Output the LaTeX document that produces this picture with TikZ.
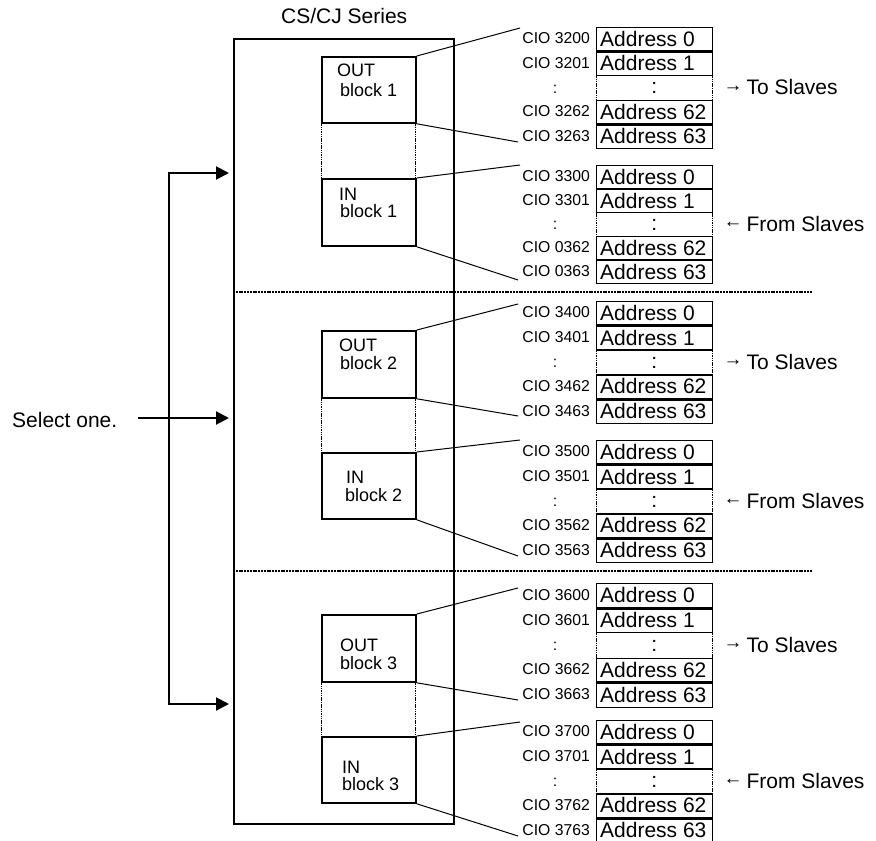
\documentclass[tikz,border=0pt]{standalone}
\usepackage{fontspec}
\setmainfont{Liberation Sans}
\usetikzlibrary{arrows.meta}
\newcommand\fmain{\fontsize{21bp}{25bp}\selectfont}
\newcommand\fcio{\fontsize{15.75bp}{18bp}\selectfont}
\newcommand\fblk{\fontsize{18bp}{20bp}\selectfont}
\newcommand\farr{\fontsize{19bp}{19bp}\selectfont}
\newcommand\toslaves{\makebox[23bp][l]{\raisebox{3.5bp}{\farr →}}To Slaves}
\newcommand\fromslaves{\makebox[23bp][l]{\raisebox{3.5bp}{\farr ←}}From Slaves}
\tikzset{
  plcbox/.style={draw, line width=2bp, inner sep=0pt, anchor=north west},
  blkbox/.style={draw, line width=1.8bp, inner sep=0pt, minimum width=94bp, anchor=north west},
  gapbox/.style={inner sep=0pt, minimum width=94bp, anchor=north west},
  dotline/.style={line width=1bp, dash pattern=on 1.5bp off 0.8bp},
  seprule/.style={line width=1.2bp, dash pattern=on 2bp off 0.8bp},
  rowbox/.style={draw, line width=1.4bp, inner sep=0pt, minimum width=116bp, anchor=north west},
  emptyrow/.style={inner sep=0pt, minimum width=116bp, anchor=north west},
  conn/.style={line width=1bp},
  txt/.style={inner sep=0pt, anchor=base west, font=\fmain},
  addrtxt/.style={inner sep=0pt, font=\fmain},
  ciotxt/.style={inner sep=0pt, font=\fcio},
  blktxt/.style={inner sep=0pt, anchor=base west, font=\fblk},
  selarrow/.style={line width=2bp, line join=miter},
}
\newcommand\addrtable[8]{%
  \pgfmathsetmacro\rh{(#3-#2)/5}%
  \node[rowbox, minimum height=\rh bp] (#1r0) at (596,#2) {};
  \node[rowbox, minimum height=\rh bp] (#1r1) at (#1r0.south west) {};
  \node[emptyrow, minimum height=\rh bp] (#1r2) at (#1r1.south west) {};
  \node[rowbox, minimum height=\rh bp] (#1r3) at (#1r2.south west) {};
  \node[rowbox, minimum height=\rh bp] (#1r4) at (#1r3.south west) {};
  \draw[dotline] (#1r2.north west) -- (#1r2.south west) (#1r2.north east) -- (#1r2.south east);
  \node[addrtxt, anchor=base west] (#1a0) at ([xshift=4bp,yshift=-7bp]#1r0.west) {Address 0};
  \node[addrtxt, anchor=base west] (#1a1) at ([xshift=4bp,yshift=-7bp]#1r1.west) {Address 1};
  \node[addrtxt, anchor=base] (#1a2) at ([yshift=-5.5bp]#1r2.center) {:};
  \node[addrtxt, anchor=base west] (#1a3) at ([xshift=4bp,yshift=-7bp]#1r3.west) {Address 62};
  \node[addrtxt, anchor=base west] (#1a4) at ([xshift=4bp,yshift=-7bp]#1r4.west) {Address 63};
  \node[ciotxt, anchor=base east] (#1c0) at ([xshift=-6bp,yshift=-4.5bp]#1r0.west) {#4};
  \node[ciotxt, anchor=base east] (#1c1) at ([xshift=-6bp,yshift=-4.5bp]#1r1.west) {#5};
  \node[ciotxt, anchor=base] (#1c2) at ([xshift=-41bp,yshift=-5bp]#1r2.west) {:};
  \node[ciotxt, anchor=base east] (#1c3) at ([xshift=-6bp,yshift=-4.5bp]#1r3.west) {#6};
  \node[ciotxt, anchor=base east] (#1c4) at ([xshift=-6bp,yshift=-4.5bp]#1r4.west) {#7};
  \node[addrtxt, anchor=base west] (#1s) at ([xshift=11bp,yshift=-6.5bp]#1r2.east) {#8};
}
\begin{document}
\begin{tikzpicture}[x=1bp,y=-1bp]
\useasboundingbox (0,0) rectangle (876,841);

\node[txt] (title) at (281,23) {CS/CJ Series};
\node[plcbox, minimum width=220bp, minimum height=785bp] (plc) at (233,38) {};

% separators
\coordinate (s1) at (812,292);
\coordinate (s2) at (812,571);
\draw[seprule] (plc.west |- s1) -- (s1);
\draw[seprule] (plc.west |- s2) -- (s2);

% section 1
\node[blkbox, minimum height=66bp] (out1) at (321,56) {};
\node[gapbox, minimum height=56bp] (gap1) at (321,122) {};
\node[blkbox, minimum height=67bp] (in1) at (321,178) {};
\draw[dotline] (gap1.north west) -- (gap1.south west) (gap1.north east) -- (gap1.south east);
\node[blktxt] (out1a) at (337,76) {OUT};
\node[blktxt] (out1b) at (340,96) {block 1};
\node[blktxt] (in1a) at (339,200) {IN};
\node[blktxt] (in1b) at (340,217) {block 1};

% section 2
\node[blkbox, minimum height=67bp] (out2) at (321,330) {};
\node[gapbox, minimum height=55bp] (gap2) at (321,397) {};
\node[blkbox, minimum height=66bp] (in2) at (321,452) {};
\draw[dotline] (gap2.north west) -- (gap2.south west) (gap2.north east) -- (gap2.south east);
\node[blktxt] (out2a) at (339,351) {OUT};
\node[blktxt] (out2b) at (340,369) {block 2};
\node[blktxt] (in2a) at (346,483) {IN};
\node[blktxt] (in2b) at (345,501) {block 2};

% section 3
\node[blkbox, minimum height=67bp] (out3) at (321,614) {};
\node[gapbox, minimum height=55bp] (gap3) at (321,681) {};
\node[blkbox, minimum height=66bp] (in3) at (321,736) {};
\draw[dotline] (gap3.north west) -- (gap3.south west) (gap3.north east) -- (gap3.south east);
\node[blktxt] (out3a) at (340,651) {OUT};
\node[blktxt] (out3b) at (340,669) {block 3};
\node[blktxt] (in3a) at (342,773) {IN};
\node[blktxt] (in3b) at (342,790) {block 3};

% address tables
\addrtable{ta}{27}{143}{CIO 3200}{CIO 3201}{CIO 3262}{CIO 3263}{\toslaves}
\addrtable{tb}{165}{278}{CIO 3300}{CIO 3301}{CIO 0362}{CIO 0363}{\fromslaves}
\addrtable{tc}{301}{418}{CIO 3400}{CIO 3401}{CIO 3462}{CIO 3463}{\toslaves}
\addrtable{td}{440}{557}{CIO 3500}{CIO 3501}{CIO 3562}{CIO 3563}{\fromslaves}
\addrtable{te}{583}{702}{CIO 3600}{CIO 3601}{CIO 3662}{CIO 3663}{\toslaves}
\addrtable{tf}{720}{837}{CIO 3700}{CIO 3701}{CIO 3762}{CIO 3763}{\fromslaves}

% connectors
\coordinate (ca1) at (520,28);  \coordinate (cb1) at (518,142);
\coordinate (cc1) at (520,165); \coordinate (cd1) at (518,280);
\coordinate (ca2) at (518,304); \coordinate (cb2) at (518,416);
\coordinate (cc2) at (520,440); \coordinate (cd2) at (518,556);
\coordinate (ca3) at (518,588); \coordinate (cb3) at (518,700);
\coordinate (cc3) at (520,722); \coordinate (cd3) at (518,836);
\foreach \k in {1,2,3} {
  \draw[conn] (out\k.north east) -- (ca\k);
  \draw[conn] (out\k.south east) -- (cb\k);
  \draw[conn] (in\k.north east) -- (cc\k);
  \draw[conn] (in\k.south east) -- (cd\k);
}

% selection arrows
\node[txt] (sel) at (12,427) {Select one.};
\coordinate (selstart) at (138,418);
\coordinate (ltop) at (169,173);
\coordinate (lbot) at (169,704);
\draw[selarrow, -{Triangle[length=13bp,width=13bp]}, shorten >=4bp] (selstart) -- (plc.west |- selstart);
\draw[selarrow, {Triangle[length=13bp,width=13bp]}-{Triangle[length=13bp,width=13bp]}, shorten <=4bp, shorten >=4bp]
  (plc.west |- ltop) -- (ltop) -- (lbot) -- (plc.west |- lbot);
\end{tikzpicture}
\end{document}
